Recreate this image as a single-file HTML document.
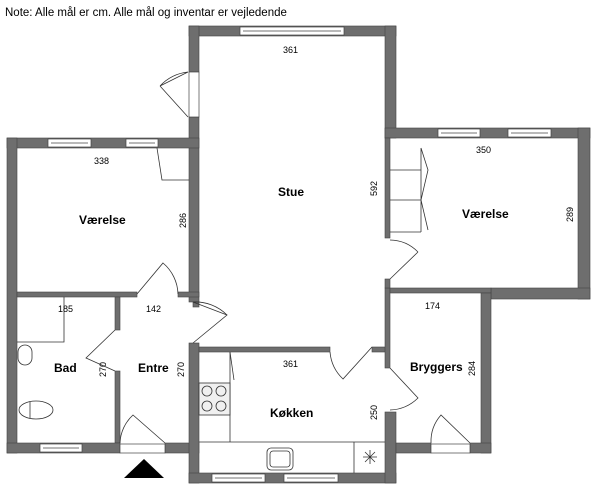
<!DOCTYPE html>
<html><head><meta charset="utf-8"><style>
body{margin:0;background:#fff;width:600px;height:490px;overflow:hidden}
svg{display:block}
text{font-family:"Liberation Sans",sans-serif}
.d{font-size:9px}
.r{font-size:12px;font-weight:bold}
</style></head><body>
<svg width="600" height="490" viewBox="0 0 600 490">
<text x="5" y="16" font-size="11.5">Note: Alle mål er cm. Alle mål og inventar er vejledende</text>
<g fill="#6e6e6e" stroke="#444" stroke-width="0.6">
<rect x="189" y="26" width="207" height="10"/>
<rect x="189" y="26" width="10" height="46"/>
<rect x="189" y="117" width="10" height="185"/>
<rect x="385" y="26" width="11" height="112"/>
<rect x="7" y="138" width="192" height="10"/>
<rect x="7" y="138" width="10" height="315"/>
<rect x="17" y="292" width="120" height="5"/>
<rect x="178" y="292" width="21" height="5"/>
<rect x="193" y="302" width="6" height="5"/>
<rect x="115" y="297" width="5" height="33"/>
<rect x="115" y="371" width="5" height="72"/>
<rect x="7" y="443" width="113" height="10"/>
<rect x="165" y="443" width="34" height="10"/>
<rect x="189" y="343" width="10" height="140"/>
<rect x="199" y="347" width="131" height="5"/>
<rect x="372" y="347" width="16" height="5"/>
<rect x="189" y="473" width="207" height="10"/>
<rect x="385" y="412" width="11" height="71"/>
<rect x="385" y="288" width="5" height="80"/>
<rect x="385" y="128" width="205" height="10"/>
<rect x="578" y="128" width="12" height="171"/>
<rect x="491" y="288" width="99" height="11"/>
<rect x="390" y="288" width="101" height="5"/>
<rect x="385" y="138" width="5" height="100"/>
<rect x="385" y="279" width="5" height="9"/>
<rect x="481" y="293" width="10" height="160"/>
<rect x="396" y="443" width="35" height="10"/>
<rect x="470" y="443" width="21" height="10"/>
</g>
<g fill="#fff" stroke="#444" stroke-width="0.7">
<rect x="240" y="27" width="104" height="8"/><line x1="243" y1="31" x2="341" y2="31"/>
<rect x="48" y="139" width="43" height="8"/><line x1="51" y1="143" x2="88" y2="143"/>
<rect x="126" y="139" width="32" height="8"/><line x1="129" y1="143" x2="155" y2="143"/>
<rect x="438" y="129" width="42" height="8"/><line x1="441" y1="133" x2="477" y2="133"/>
<rect x="508" y="129" width="43" height="8"/><line x1="511" y1="133" x2="548" y2="133"/>
<rect x="40" y="444" width="42" height="8"/><line x1="43" y1="448" x2="79" y2="448"/>
<rect x="212" y="474" width="53" height="8"/><line x1="215" y1="478" x2="262" y2="478"/>
<rect x="284" y="474" width="54" height="8"/><line x1="287" y1="478" x2="335" y2="478"/>
<rect x="120" y="444" width="45" height="9"/>
<rect x="431" y="444" width="39" height="9"/>
<rect x="189" y="72" width="10" height="45"/>
</g>
<g fill="none" stroke="#333" stroke-width="0.8">
<path d="M188 72 L160 86 M188 117 L160 86 M160 86 A45 45 0 0 1 188 72"/>
<path d="M137 294 L163 263 A42 42 0 0 1 178 294"/>
<path d="M193 302 L227 315 L193 343 M193 302 A45 45 0 0 1 227 315"/>
<path d="M115 330 L86 358 L115 371"/>
<path d="M120 443 A40 40 0 0 1 133 415 L165 443"/>
<path d="M330 352 A42 42 0 0 0 343 379 L372 347"/>
<path d="M390 368 L418 398 A42 42 0 0 1 390 410"/>
<path d="M390 279 L418 252 M390 240 A40 40 0 0 1 418 252"/>
<path d="M431 443 A40 40 0 0 1 441 415 L470 443"/>
<path d="M157 148 L162 180 L189 180"/>
<path d="M390 170 L421 170 M390 200 L421 200 M390 232 L421 232 M421 148 L421 232 M421 148 L428 170 L421 200 L428 230"/>
<path d="M17 342 L64 342 L64 297"/>
<rect x="18" y="345" width="14" height="20" rx="7"/>
<ellipse cx="36" cy="410" rx="17" ry="9"/>
<line x1="30" y1="402" x2="30" y2="418"/>
<path d="M230 352 L230 442 L385 442 M199 442 L230 442"/>
<path d="M230 352 L234 380"/>
<rect x="199" y="383" width="31" height="32" fill="#f0f0f0"/>
<circle cx="207" cy="391" r="5"/><circle cx="221" cy="391" r="5"/>
<circle cx="207" cy="406" r="5"/><circle cx="221" cy="406" r="5"/>
<line x1="354" y1="442" x2="354" y2="473"/>
<rect x="267" y="448" width="26" height="22" rx="4"/>
<rect x="270" y="451" width="20" height="16" rx="3"/>
<path d="M363 457 L377 457 M370 450 L370 464 M365 452 L375 462 M375 452 L365 462"/>
</g>
<polygon points="124,478 144,459 164,478" fill="#000"/>
<g class="d" fill="#000">
<text x="283" y="53">361</text>
<text x="94" y="164">338</text>
<text x="476" y="153">350</text>
<text x="58" y="312">185</text>
<text x="146" y="312">142</text>
<text x="425" y="309">174</text>
<text x="283" y="367">361</text>
<text transform="translate(186,228) rotate(-90)">286</text>
<text transform="translate(377,196) rotate(-90)">592</text>
<text transform="translate(573,222) rotate(-90)">289</text>
<text transform="translate(106,377) rotate(-90)">270</text>
<text transform="translate(184,377) rotate(-90)">270</text>
<text transform="translate(475,376) rotate(-90)">284</text>
<text transform="translate(377,420) rotate(-90)">250</text>
</g>
<g class="r" fill="#000">
<text x="278" y="196">Stue</text>
<text x="79" y="224">Værelse</text>
<text x="462" y="218">Værelse</text>
<text x="54" y="372">Bad</text>
<text x="138" y="372">Entre</text>
<text x="410" y="371">Bryggers</text>
<text x="270" y="417">Køkken</text>
</g>
</svg>
</body></html>
